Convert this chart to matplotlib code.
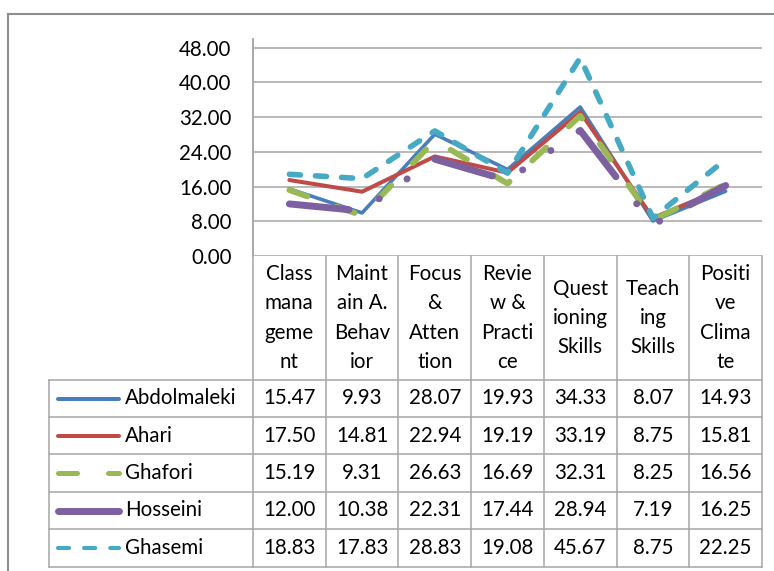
import matplotlib.pyplot as plt
from matplotlib.lines import Line2D
from matplotlib.transforms import blended_transform_factory

plt.rcParams['font.family'] = ['Lato', 'DejaVu Sans']
plt.rcParams['lines.scale_dashes'] = False

# Data
categories = ['Class\nmana\ngeme\nnt', 'Maint\nain A.\nBehav\nior', 'Focus\n&\nAtten\ntion',
              'Revie\nw &\nPracti\nce', 'Quest\nioning\nSkills', 'Teach\ning\nSkills',
              'Positi\nve\nClima\nte']
names = ['Abdolmaleki', 'Ahari', 'Ghafori', 'Hosseini', 'Ghasemi']
abdolmaleki = [15.47, 9.93, 28.07, 19.93, 34.33, 8.07, 14.93]
ahari = [17.50, 14.81, 22.94, 19.19, 33.19, 8.75, 15.81]
ghafori = [15.19, 9.31, 26.63, 16.69, 32.31, 8.25, 16.56]
hosseini = [12.00, 10.38, 22.31, 17.44, 28.94, 7.19, 16.25]
ghasemi = [18.83, 17.83, 28.83, 19.08, 45.67, 8.75, 22.25]
series = [abdolmaleki, ahari, ghafori, hosseini, ghasemi]
y_ticks = [0, 8, 16, 24, 32, 40, 48]

# line styles (Excel-like), dashes in points
styles = [
    dict(color='#4A7EBB', lw=2.6, ls='-'),
    dict(color='#BE4B48', lw=2.9, ls='-'),
    dict(color='#98B954', lw=4.2, ls=(0, (13.7, 22.3))),
    dict(color='#7D60A0', lw=5.0, ls=(0, (43.2, 24.5, 0.1, 24.5, 0.1, 24.5))),
    dict(color='#46AAC5', lw=4.0, ls=(0, (8, 10.8))),
]

W, H = 774, 571
def fx(px):
    return px / W
def fy(py):
    return 1 - py / H

grid_col = '#A6A6A6'
fs = 14.8

fig = plt.figure(figsize=(W / 100, H / 100), dpi=100)
ax = fig.add_axes([fx(253), fy(256), fx(762) - fx(253), fy(39) - fy(256)])

x = list(range(len(categories)))
for vals, st in zip(series, styles):
    ax.plot(x, vals, color=st['color'], lw=st['lw'], linestyle=st['ls'],
            dash_capstyle='round', solid_capstyle='round', solid_joinstyle='round')

ax.set_xlim(-0.5, len(categories) - 0.5)
ax.set_ylim(0, 50)
ax.set_yticks(y_ticks)
ax.set_yticklabels([f'{v:.2f}' for v in y_ticks], fontsize=fs)
ax.set_xticks([])
ax.tick_params(axis='y', length=0, pad=15.5)
ax.yaxis.grid(True, color=grid_col, lw=1.1)
ax.set_axisbelow(True)
for s in ['top', 'right', 'bottom']:
    ax.spines[s].set_visible(False)
ax.spines['left'].set_color(grid_col)
ax.spines['left'].set_linewidth(1.1)

# data table below the chart
trans = blended_transform_factory(ax.transData, fig.transFigure)
header_top, header_bot = 256, 380
row_edges = [380, 417, 454, 492, 529, 567]

for k in range(len(categories) + 1):
    xk = k - 0.5
    top = 39 if k == 0 else header_top
    fig.add_artist(Line2D([xk, xk], [fy(top), fy(567)], transform=trans,
                          color=grid_col, lw=1.1))
for r in row_edges:
    fig.add_artist(Line2D([fx(49), fx(762)], [fy(r), fy(r)], transform=fig.transFigure,
                          color=grid_col, lw=1.1))
fig.add_artist(Line2D([fx(49), fx(49)], [fy(380), fy(567)], transform=fig.transFigure,
                      color=grid_col, lw=1.1))

# header text
hc = (header_top + header_bot) / 2
for i, cat in enumerate(categories):
    lines = cat.split('\n')
    n = len(lines)
    for j, t in enumerate(lines):
        yy = hc + (j - (n - 1) / 2) * 29.3
        fig.text(i, fy(yy), t, transform=trans, ha='center', va='center', fontsize=fs)

# rows with legend keys
legend_lw = [2.9, 2.9, 3.6, 5.0, 3.0]
for r, (name, vals, st) in enumerate(zip(names, series, styles)):
    yc = (row_edges[r] + row_edges[r + 1]) / 2
    ls = '-' if name == 'Hosseini' else st['ls']
    fig.add_artist(Line2D([fx(58), fx(119)], [fy(yc), fy(yc)], transform=fig.transFigure,
                          color=st['color'], lw=legend_lw[r], linestyle=ls,
                          dash_capstyle='round', solid_capstyle='round'))
    fig.text(fx(125), fy(yc), name, ha='left', va='center', fontsize=fs)
    for i, v in enumerate(vals):
        fig.text(i, fy(yc), f'{v:.2f}', transform=trans, ha='center', va='center', fontsize=fs)

# outer chart frame
frame_col = '#8E8E8E'
fig.add_artist(Line2D([fx(8), fx(8)], [fy(13.5), 0], transform=fig.transFigure, color=frame_col, lw=1.5))
fig.add_artist(Line2D([fx(8), 1], [fy(13.5), fy(13.5)], transform=fig.transFigure, color=frame_col, lw=1.5))

plt.savefig('out.png', dpi=100)
